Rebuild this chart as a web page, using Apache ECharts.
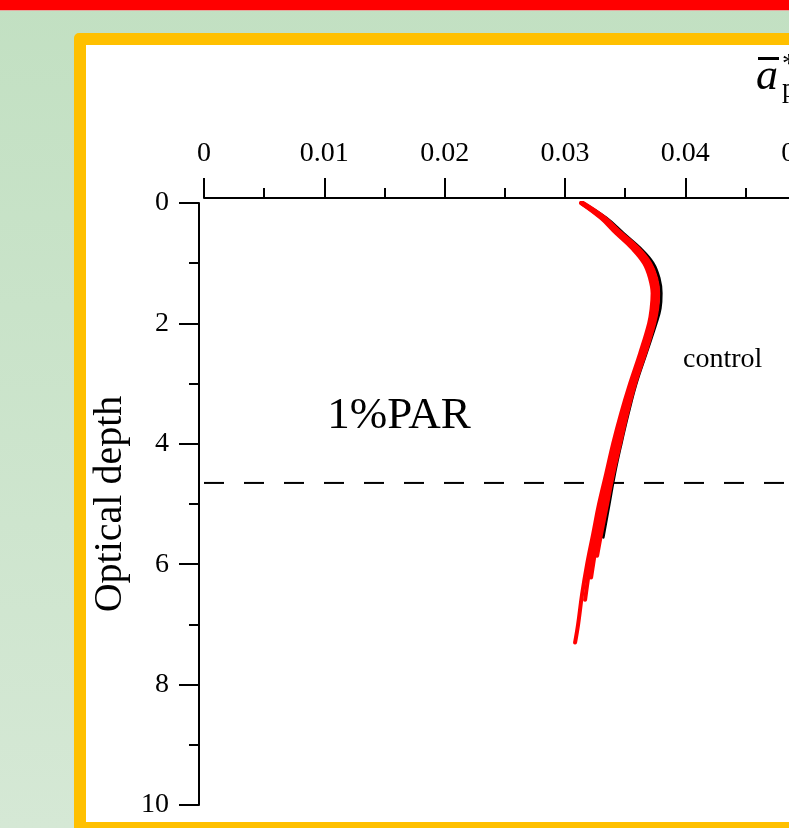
<!DOCTYPE html>
<html>
<head>
<meta charset="utf-8">
<title>Optical depth profile</title>
<script src="https://cdn.jsdelivr.net/npm/echarts@6/dist/echarts.min.js"></script>
<style>
  html, body { margin: 0; padding: 0; width: 789px; height: 828px; overflow: hidden; }
  body { position: relative; background: linear-gradient(to bottom, #c2e0c2 0%, #d5e8d5 100%); }
  #topbar { position: absolute; left: 0; top: 0; width: 100%; height: 10px; background: #ff0000; border-bottom: 1px solid #e6a8a0; }
  #panel { position: absolute; left: 74px; top: 33px; width: 900px; height: 777px;
           border: 12px solid #ffc000; border-radius: 5px; background: #ffffff; }
  #chart { position: absolute; left: 0; top: 0; width: 789px; height: 828px; }
</style>
</head>
<body>
<div id="topbar"></div>
<div id="panel"></div>
<div id="chart"></div>
<script>
// Depth of the 1% PAR level (optical depth)
const parDepth = 4.65;

// Tick range of the absorption axis
const xMin = 0, xMax = 0.06, xStep = 0.01;
// Optical depth axis
const yMin = 0, yMax = 10, yStep = 2;

// Control profile: [absorption, optical depth]
const controlProfile = [
  [0.03150, 0], [0.03342, 0.25], [0.03483, 0.5], [0.03624, 0.75], [0.03732, 1],
  [0.03782, 1.25], [0.03799, 1.5], [0.03791, 1.75], [0.03757, 2], [0.03674, 2.5],
  [0.03591, 3], [0.03525, 3.5], [0.03466, 4], [0.03412, 4.5], [0.03367, 5], [0.03317, 5.55]
];

// Perturbed runs
const run1 = [
  [0.03150, 0], [0.03333, 0.25], [0.03466, 0.5], [0.03608, 0.75], [0.03707, 1],
  [0.03757, 1.25], [0.03774, 1.5], [0.03766, 1.75], [0.03741, 2], [0.03666, 2.5],
  [0.03583, 3], [0.03516, 3.5], [0.03458, 4], [0.03400, 4.5], [0.03350, 5],
  [0.03300, 5.5], [0.03267, 5.86]
];
const run2 = [
  [0.03142, 0], [0.03317, 0.25], [0.03450, 0.5], [0.03591, 0.75], [0.03691, 1],
  [0.03741, 1.25], [0.03757, 1.5], [0.03749, 1.75], [0.03724, 2], [0.03649, 2.5],
  [0.03566, 3], [0.03500, 3.5], [0.03441, 4], [0.03383, 4.5], [0.03325, 5],
  [0.03275, 5.5], [0.03234, 6], [0.03217, 6.22]
];
const run3 = [
  [0.03134, 0], [0.03308, 0.25], [0.03433, 0.5], [0.03574, 0.75], [0.03674, 1],
  [0.03724, 1.25], [0.03741, 1.5], [0.03732, 1.75], [0.03707, 2], [0.03633, 2.5],
  [0.03549, 3], [0.03483, 3.5], [0.03417, 4], [0.03358, 4.5], [0.03300, 5],
  [0.03250, 5.5], [0.03209, 6], [0.03167, 6.59]
];
const run4 = [
  [0.03134, 0], [0.03300, 0.25], [0.03425, 0.5], [0.03558, 0.75], [0.03658, 1],
  [0.03707, 1.25], [0.03728, 1.5], [0.03720, 1.75], [0.03699, 2], [0.03624, 2.5],
  [0.03541, 3], [0.03466, 3.5], [0.03400, 4], [0.03342, 4.5], [0.03283, 5],
  [0.03234, 5.5], [0.03184, 6], [0.03142, 6.5], [0.03109, 7], [0.03084, 7.3]
];
const runs = [run1, run2, run3, run4];

const serif = '"Liberation Serif", "Times New Roman", serif';

const axisStroke = { color: '#000', width: 2 };

const chart = echarts.init(document.getElementById('chart'), null, { renderer: 'canvas' });

const series = [
  {
    name: 'control', type: 'line', data: controlProfile, smooth: 0.4, symbol: 'none',
    silent: true, lineStyle: { color: '#000', width: 3, cap: 'round' }, z: 2
  }
].concat(runs.map((r, i) => ({
  name: 'run' + (i + 1), type: 'line', data: r, smooth: 0.4, symbol: 'none',
  silent: true, lineStyle: { color: '#ff0000', width: 4, cap: 'round' }, z: 3
}))).concat([{
  name: '1%PAR', type: 'line', data: [[xMin, parDepth], [xMax, parDepth]], symbol: 'none',
  silent: true, lineStyle: { color: '#000', width: 2, type: [20, 20] }, z: 1
}]);

chart.setOption({
  animation: false,
  backgroundColor: 'transparent',
  grid: { left: 204, top: 203, width: 722, height: 602, outerBoundsMode: 'none', containLabel: false },
  xAxis: {
    type: 'value', position: 'top', min: xMin, max: xMax, interval: xStep, offset: 5,
    axisLine: { show: true, onZero: false, lineStyle: axisStroke },
    axisTick: { show: true, length: 20, lineStyle: axisStroke },
    minorTick: { show: true, splitNumber: 2, length: 10, lineStyle: axisStroke },
    splitLine: { show: false },
    minorSplitLine: { show: false },
    axisLabel: { color: '#000', fontFamily: serif, fontSize: 28, margin: 30 }
  },
  yAxis: {
    type: 'value', inverse: true, min: yMin, max: yMax, interval: yStep, offset: 5,
    name: 'Optical depth', nameLocation: 'middle', nameGap: 69,
    nameTextStyle: { color: '#000', fontFamily: serif, fontSize: 40 },
    axisLine: { show: true, onZero: false, lineStyle: axisStroke },
    axisTick: { show: true, length: 20, lineStyle: axisStroke },
    minorTick: { show: true, splitNumber: 2, length: 10, lineStyle: axisStroke },
    splitLine: { show: false },
    minorSplitLine: { show: false },
    axisLabel: { color: '#000', fontFamily: serif, fontSize: 28, margin: 30, showMinLabel: true, showMaxLabel: true }
  },
  series: series,
  graphic: [
    { type: 'text', x: 399, y: 416, silent: true,
      style: { text: '1%PAR', font: '45px ' + serif, fill: '#000', align: 'center', verticalAlign: 'middle' } },
    { type: 'text', x: 683, y: 360, silent: true,
      style: { text: 'control', font: '28px ' + serif, fill: '#000', align: 'left', verticalAlign: 'middle' } },
    // axis title: mean specific absorption a*ph
    { type: 'rect', silent: true, shape: { x: 758, y: 57, width: 21, height: 3 }, style: { fill: '#000' } },
    { type: 'text', x: 756, y: 77, silent: true,
      style: { text: 'a', font: 'italic 44px ' + serif, fill: '#000', align: 'left', verticalAlign: 'middle' } },
    { type: 'text', x: 782, y: 65, silent: true,
      style: { text: '*', font: '28px ' + serif, fill: '#000', align: 'left', verticalAlign: 'middle' } },
    { type: 'text', x: 782, y: 90, silent: true,
      style: { text: 'ph', font: '28px ' + serif, fill: '#000', align: 'left', verticalAlign: 'middle' } }
  ]
});
</script>
</body>
</html>
